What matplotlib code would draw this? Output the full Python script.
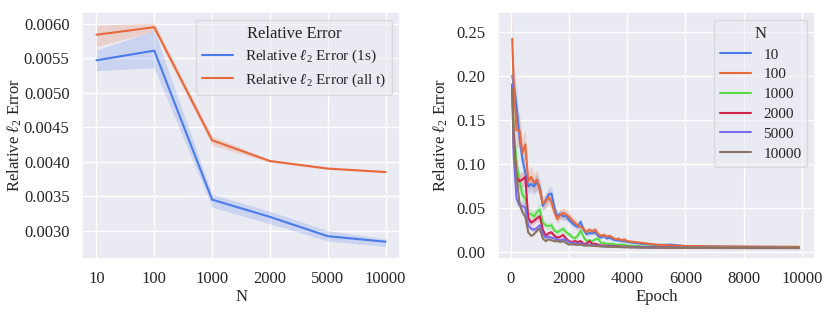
import matplotlib
matplotlib.use("Agg")
import matplotlib.pyplot as plt
import numpy as np
import seaborn as sns

# ---- left panel: final error vs N ----
n_labels = ["10", "100", "1000", "2000", "5000", "10000"]
err_1s = [0.00547, 0.00561, 0.00345, 0.00320, 0.00292, 0.00284]
err_1s_lo = [0.00532, 0.00536, 0.00334, 0.00310, 0.00285, 0.00277]
err_1s_hi = [0.00562, 0.00590, 0.00353, 0.00328, 0.00300, 0.00288]
err_all = [0.00584, 0.00595, 0.00431, 0.00401, 0.00390, 0.00385]
err_all_lo = [0.00567, 0.00589, 0.00424, 0.00399, 0.00389, 0.00384]
err_all_hi = [0.00598, 0.00601, 0.00437, 0.00403, 0.00392, 0.00387]

# ---- right panel: error vs epoch for each N ----
epochs = [50, 100, 200, 300, 400, 500, 600, 700, 800, 900, 1000,
          1100, 1200, 1300, 1400, 1500, 1600, 1700, 1800, 1900, 2000,
          2100, 2200, 2300, 2400, 2500, 2600, 2700, 2800, 2900, 3000,
          3100, 3200, 3300, 3400, 3500, 3600, 3700, 3800, 3900, 4000,
          4500, 5000, 5500, 6000, 7000, 8000, 9000, 9900]

curve_10 = [0.200, 0.190, 0.165, 0.130, 0.105, 0.090, 0.074, 0.077, 0.074, 0.079, 0.073,
            0.052, 0.058, 0.065, 0.066, 0.050, 0.040, 0.043, 0.040, 0.041, 0.036,
            0.033, 0.030, 0.028, 0.034, 0.025, 0.020, 0.021, 0.021, 0.022, 0.018,
            0.016, 0.018, 0.015, 0.016, 0.014, 0.013, 0.013, 0.012, 0.012, 0.011,
            0.009, 0.0075, 0.008, 0.0062, 0.0058, 0.0055, 0.0054, 0.0053]
curve_100 = [0.242, 0.190, 0.138, 0.138, 0.112, 0.122, 0.080, 0.085, 0.078, 0.082, 0.070,
             0.055, 0.057, 0.062, 0.056, 0.045, 0.037, 0.042, 0.044, 0.042, 0.040,
             0.036, 0.033, 0.030, 0.028, 0.026, 0.022, 0.025, 0.023, 0.025, 0.020,
             0.018, 0.019, 0.017, 0.018, 0.016, 0.014, 0.015, 0.013, 0.014, 0.012,
             0.010, 0.008, 0.007, 0.0065, 0.0060, 0.0058, 0.0056, 0.0055]
curve_1000 = [0.190, 0.140, 0.100, 0.080, 0.065, 0.060, 0.042, 0.043, 0.040, 0.045, 0.048,
              0.033, 0.030, 0.029, 0.030, 0.024, 0.022, 0.024, 0.026, 0.022, 0.020,
              0.017, 0.015, 0.018, 0.024, 0.017, 0.012, 0.013, 0.012, 0.014, 0.015,
              0.010, 0.010, 0.009, 0.009, 0.009, 0.008, 0.008, 0.008, 0.008, 0.007,
              0.006, 0.0055, 0.0050, 0.0050, 0.0048, 0.0046, 0.0045, 0.0045]
curve_2000 = [0.190, 0.130, 0.085, 0.080, 0.082, 0.085, 0.038, 0.033, 0.035, 0.038, 0.040,
              0.025, 0.018, 0.021, 0.022, 0.018, 0.016, 0.017, 0.019, 0.015, 0.012,
              0.011, 0.012, 0.011, 0.012, 0.009, 0.009, 0.012, 0.009, 0.009, 0.008,
              0.007, 0.007, 0.0068, 0.0066, 0.0064, 0.0062, 0.0060, 0.0058, 0.0057, 0.0056,
              0.0052, 0.0050, 0.0048, 0.0046, 0.0045, 0.0044, 0.0043, 0.0043]
curve_5000 = [0.190, 0.110, 0.060, 0.053, 0.052, 0.050, 0.030, 0.026, 0.025, 0.027, 0.030,
              0.020, 0.016, 0.017, 0.016, 0.015, 0.014, 0.013, 0.014, 0.013, 0.011,
              0.010, 0.0095, 0.009, 0.0095, 0.008, 0.0075, 0.008, 0.0072, 0.007, 0.0068,
              0.0064, 0.0062, 0.0060, 0.0058, 0.0057, 0.0056, 0.0055, 0.0054, 0.0053, 0.0052,
              0.0049, 0.0047, 0.0045, 0.0044, 0.0043, 0.0042, 0.0042, 0.0041]
curve_10000 = [0.185, 0.120, 0.085, 0.055, 0.045, 0.040, 0.022, 0.018, 0.020, 0.024, 0.026,
               0.015, 0.012, 0.014, 0.013, 0.012, 0.012, 0.011, 0.012, 0.010, 0.008,
               0.0085, 0.0080, 0.0078, 0.0080, 0.0070, 0.0068, 0.0070, 0.0065, 0.0064, 0.0062,
               0.0060, 0.0058, 0.0056, 0.0055, 0.0054, 0.0053, 0.0052, 0.0051, 0.0050, 0.0049,
               0.0046, 0.0044, 0.0043, 0.0042, 0.0041, 0.0040, 0.0040, 0.0040]
curve_names = ["10", "100", "1000", "2000", "5000", "10000"]
# approximate relative half-width of the shaded CI band for each N
band_rel = [0.12, 0.14, 0.15, 0.11, 0.10, 0.09]

colors = ["#4a7bea", "#e8693c", "#58dc46", "#d2214f", "#7a6cf0", "#8c7462"]

sns.set_theme(style="darkgrid")
plt.rcParams["font.family"] = ["Liberation Serif", "DejaVu Serif"]
plt.rcParams["mathtext.fontset"] = "custom"
plt.rcParams["mathtext.rm"] = "Liberation Serif"
plt.rcParams["mathtext.it"] = "Liberation Serif:italic:bold"
plt.rcParams["mathtext.bf"] = "Liberation Serif:bold"
plt.rcParams["mathtext.fallback"] = "stix"

fig = plt.figure(figsize=(8.3, 3.12), dpi=100)
ax1 = fig.add_axes([0.0988, 0.170, 0.3832, 0.7915])
ax2 = fig.add_axes([0.5997, 0.170, 0.3823, 0.7915])

fs = 12
ylab = r"Relative $\mathit{\ell}_2$ Error"

# left panel
ax1.fill_between(n_labels, err_1s_lo, err_1s_hi, color=colors[0], alpha=0.2, lw=0)
ax1.plot(n_labels, err_1s, color=colors[0], lw=1.5, label=r"Relative $\mathit{\ell}_2$ Error (1s)")
ax1.fill_between(n_labels, err_all_lo, err_all_hi, color=colors[1], alpha=0.2, lw=0)
ax1.plot(n_labels, err_all, color=colors[1], lw=1.5, label=r"Relative $\mathit{\ell}_2$ Error (all t)")
ax1.set_ylim(0.00259, 0.00617)
ax1.set_yticks([0.0030, 0.0035, 0.0040, 0.0045, 0.0050, 0.0055, 0.0060])
ax1.yaxis.set_major_formatter(matplotlib.ticker.FormatStrFormatter("%.4f"))
ax1.set_xlabel("N", fontsize=fs)
ax1.set_ylabel(ylab, fontsize=fs)
ax1.xaxis.set_label_coords(0.5, -0.12)
ax1.yaxis.set_label_coords(-0.182, 0.5)
ax1.tick_params(labelsize=fs, pad=3)
ax1.legend(title="Relative Error", loc="upper right", fontsize=11,
           title_fontsize=fs, framealpha=0.6, borderaxespad=0.5, labelspacing=0.4)

# right panel
curves = [curve_10, curve_100, curve_1000, curve_2000, curve_5000, curve_10000]
for name, vals, rel, c in zip(curve_names, curves, band_rel, colors):
    v = np.array(vals)
    ax2.fill_between(epochs, v * (1 - rel), v * (1 + rel), color=c, alpha=0.2, lw=0)
    ax2.plot(epochs, v, color=c, lw=1.5, label=name)
ax2.set_xlim(-447, 10457)
ax2.set_ylim(-0.0083, 0.2724)
ax2.set_xticks([0, 2000, 4000, 6000, 8000, 10000])
ax2.set_yticks([0.0, 0.05, 0.10, 0.15, 0.20, 0.25])
ax2.yaxis.set_major_formatter(matplotlib.ticker.FormatStrFormatter("%.2f"))
ax2.set_xlabel("Epoch", fontsize=fs)
ax2.set_ylabel(ylab, fontsize=fs)
ax2.xaxis.set_label_coords(0.5, -0.12)
ax2.yaxis.set_label_coords(-0.150, 0.5)
ax2.tick_params(labelsize=fs, pad=3)
ax2.legend(title="N", loc="upper right", fontsize=11,
           title_fontsize=fs, framealpha=0.6, borderaxespad=0.5, labelspacing=0.4)

fig.savefig("out.png", dpi=100)
